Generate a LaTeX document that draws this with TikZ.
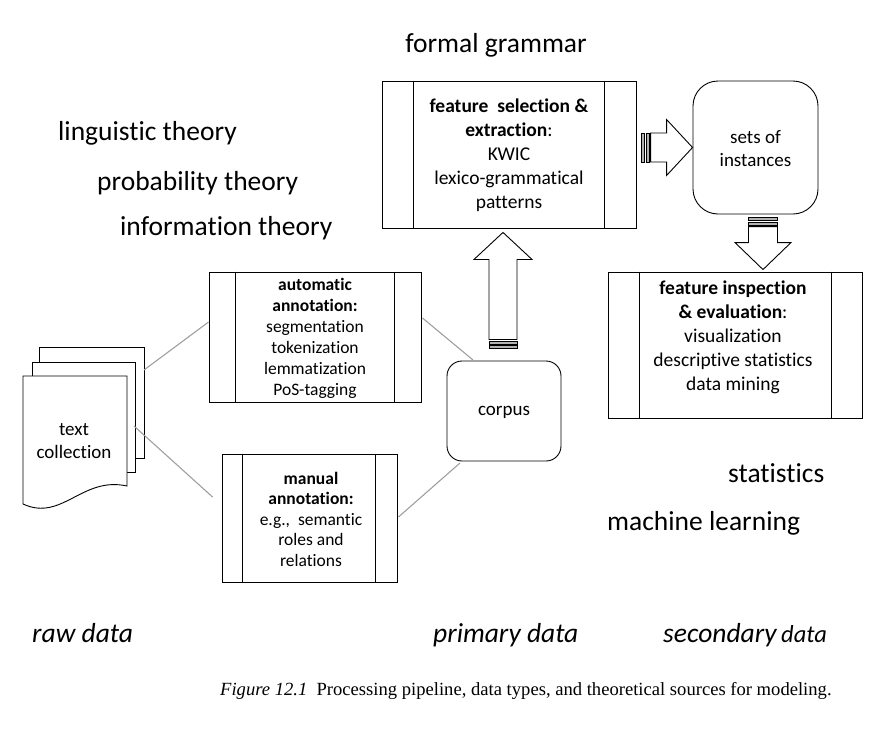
\documentclass[tikz,border=0pt]{standalone}
\usepackage{fontspec}
\setmainfont{Carlito}[Ligatures=NoCommon]
\newfontfamily\capfont{Liberation Serif}
\usetikzlibrary{calc}
\tikzset{
  biglabel/.style={inner sep=0pt, font=\fontsize{27.5}{31}\selectfont},
  itlabel/.style={inner sep=0pt, anchor=base west, font=\fontsize{27.5}{31}\selectfont\itshape},
  procbox/.style={draw, line width=0.9pt, fill=white, inner sep=0pt},
  roundbox/.style={draw, line width=0.9pt, rounded corners=#1, fill=white, inner sep=0pt},
  boxtext/.style={align=center, inner sep=0pt},
  conn/.style={draw=gray!75, line width=1.1pt},
  blockarrow/.style={draw, line width=0.9pt, fill=white, line join=miter},
  stripe/.style={draw, line width=0.6pt, fill=gray!60},
  docshape/.style={draw, line width=0.9pt, fill=white}
}
\begin{document}
\begin{tikzpicture}[x=1pt,y=-1pt]
\useasboundingbox (0,0) rectangle (892,742);

% big labels
\node[biglabel] (fg) at (496,45) {formal grammar};
\node[biglabel, anchor=west] (lt) at (58,133) {linguistic theory};
\node[biglabel, anchor=west] (pt) at (97,183) {probability theory};
\node[biglabel, anchor=west] (it) at (120,228) {information theory};
\node[biglabel, anchor=west] (st) at (728,473) {statistics};
\node[biglabel, anchor=west] (ml) at (607,523) {machine learning};
\node[itlabel] (rd) at (32,642) {raw data};
\node[itlabel] (pd) at (433,642) {primary data};
\node[itlabel] (sd) at (663,642) {secondary\,{\fontsize{24.5}{28}\selectfont data}};

% caption
\node[anchor=base west, inner sep=0pt, font=\capfont\fontsize{18.6}{22}\selectfont] (cap) at (220,695)
  {\textit{Figure 12.1}\ \ Processing pipeline, data types, and theoretical sources for modeling.};

% feature selection box
\node[procbox, minimum width=254pt, minimum height=147pt] (fsel) at (509,154.5) {};
\draw[line width=0.9pt] ($(fsel.north west)+(32,0)$) -- ($(fsel.south west)+(32,0)$);
\draw[line width=0.9pt] ($(fsel.north east)+(-32,0)$) -- ($(fsel.south east)+(-32,0)$);
\node[boxtext, font=\fontsize{19.5}{24}\selectfont] (fselt) at (509,155.5)
  {\textbf{feature\ \ selection \&}\\\textbf{extraction}:\\KWIC\\lexico-grammatical\\patterns};

% sets of instances
\node[roundbox=25pt, minimum width=125pt, minimum height=133pt] (sets) at (755.5,147.5) {};
\node[boxtext, font=\fontsize{19}{23}\selectfont] (setst) at (755.5,148.5) {sets of\\instances};

% feature inspection box
\node[procbox, minimum width=254pt, minimum height=146pt] (finsp) at (735,345) {};
\draw[line width=0.9pt] ($(finsp.north west)+(32,0)$) -- ($(finsp.south west)+(32,0)$);
\draw[line width=0.9pt] ($(finsp.north east)+(-31,0)$) -- ($(finsp.south east)+(-31,0)$);
\node[boxtext, font=\fontsize{19.5}{24}\selectfont] (finspt) at (733,337)
  {\textbf{feature inspection}\\\textbf{\& evaluation}:\\visualization\\descriptive statistics\\data mining};

% automatic annotation
\node[procbox, minimum width=212pt, minimum height=130pt] (auto) at (315,337) {};
\draw[line width=0.9pt] ($(auto.north west)+(27,0)$) -- ($(auto.south west)+(27,0)$);
\draw[line width=0.9pt] ($(auto.north east)+(-27,0)$) -- ($(auto.south east)+(-27,0)$);
\node[boxtext, font=\fontsize{17.5}{21}\selectfont] (autot) at (315,338)
  {\textbf{automatic}\\\textbf{annotation:}\\segmentation\\tokenization\\lemmatization\\PoS-tagging};

% manual annotation
\node[procbox, minimum width=175pt, minimum height=128pt] (man) at (309.5,518) {};
\draw[line width=0.9pt] ($(man.north west)+(21,0)$) -- ($(man.south west)+(21,0)$);
\draw[line width=0.9pt] ($(man.north east)+(-22,0)$) -- ($(man.south east)+(-22,0)$);
\node[boxtext, font=\fontsize{17.5}{20.5}\selectfont] (mant) at (311,519)
  {\textbf{manual}\\\textbf{annotation:}\\e.g.,\ \ semantic\\roles and\\relations};

% corpus
\node[roundbox=15pt, minimum width=114pt, minimum height=100pt] (corpus) at (504,411) {};
\node[boxtext, font=\fontsize{19}{23}\selectfont] (corpust) at (504,412) {corpus};

% document stack
\draw[docshape] (39,347) rectangle (144,458);
\draw[docshape] (32,362) rectangle (135,472);
\draw[docshape] (23,376) -- (127,376) -- (127,486)
  .. controls (82,476) and (62,522) .. (23,504) -- cycle;
\node[boxtext, font=\fontsize{19}{23}\selectfont] (docs) at (74,441) {text\\collection};
\coordinate (docA) at (144,370);
\coordinate (docB) at (134,426);

% gray connectors
\coordinate (autoIn) at ($(auto.west)+(0,-15)$);
\coordinate (manIn) at ($(man.west)+(-9,-21)$);
\coordinate (autoOut) at ($(auto.east)+(1,-19)$);
\coordinate (manOut) at ($(man.east)+(1,-1)$);
\coordinate (corpIn1) at (473,360);
\coordinate (corpIn2) at (460,463);
\draw[conn] (docA) -- (autoIn);
\draw[conn] (docB) -- (manIn);
\draw[conn] (autoOut) -- (corpIn1);
\draw[conn] (manOut) -- (corpIn2);

% up arrow (corpus -> feature selection)
\coordinate (upTip) at ($(fsel.south)+(-6,4)$);
\draw[blockarrow] ($(upTip)+(-14,107)$) -- ($(upTip)+(-14,27)$) -- ($(upTip)+(-29,27)$)
  -- (upTip) -- ($(upTip)+(29,27)$) -- ($(upTip)+(14,27)$) -- ($(upTip)+(14,107)$) -- cycle;
\draw[stripe] ($(upTip)+(-14,108.5)$) rectangle ($(upTip)+(14,111.5)$);
\draw[stripe] ($(upTip)+(-14,113)$) rectangle ($(upTip)+(14,116)$);

% right arrow (feature selection -> sets)
\coordinate (rTip) at (sets.west);
\draw[blockarrow] ($(rTip)+(-42,-14.5)$) -- ($(rTip)+(-26,-14.5)$) -- ($(rTip)+(-26,-28)$)
  -- (rTip) -- ($(rTip)+(-26,28)$) -- ($(rTip)+(-26,14.5)$) -- ($(rTip)+(-42,14.5)$) -- cycle;
\draw[stripe] ($(rTip)+(-51,-14.5)$) rectangle ($(rTip)+(-48,14.5)$);
\draw[stripe] ($(rTip)+(-46.5,-14.5)$) rectangle ($(rTip)+(-43.5,14.5)$);

% down arrow (sets -> feature inspection)
\coordinate (dTip) at ($(finsp.north)+(28,-2)$);
\draw[blockarrow] ($(dTip)+(-14.5,-43)$) -- ($(dTip)+(-14.5,-27)$) -- ($(dTip)+(-28,-27)$)
  -- (dTip) -- ($(dTip)+(28,-27)$) -- ($(dTip)+(14.5,-27)$) -- ($(dTip)+(14.5,-43)$) -- cycle;
\draw[stripe] ($(dTip)+(-14.5,-52)$) rectangle ($(dTip)+(14.5,-49)$);
\draw[stripe] ($(dTip)+(-14.5,-47.5)$) rectangle ($(dTip)+(14.5,-44.5)$);

\end{tikzpicture}
\end{document}
